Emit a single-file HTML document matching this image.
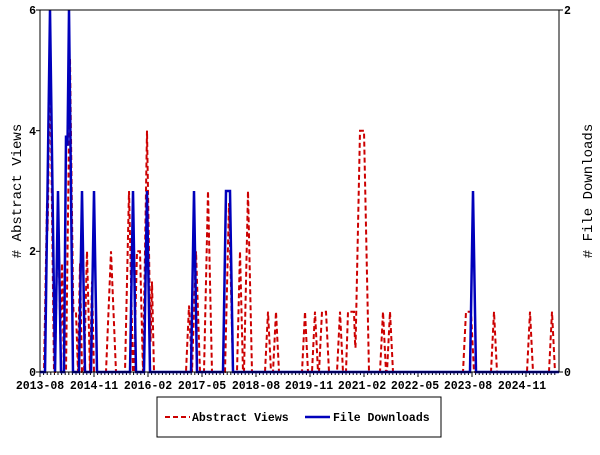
<!DOCTYPE html>
<html><head><style>
body{margin:0;background:#fff;}
svg text{font-family:"Liberation Mono","DejaVu Sans Mono",monospace;font-size:11.5px;font-weight:bold;fill:#000;}
</style></head><body>
<svg id="s" width="600" height="450" xmlns="http://www.w3.org/2000/svg">
<rect x="0" y="0" width="600" height="450" fill="#fff"/>
<g id="grid"></g>
<polyline id="v" fill="none" stroke="#cc0000" stroke-width="2" stroke-dasharray="5,3"/>
<polyline id="d" fill="none" stroke="#0000bb" stroke-width="2.5"/>
<rect x="40" y="10" width="519" height="362" fill="none" stroke="#000" stroke-width="1"/>
<text x="36" y="14" text-anchor="end">6</text>
<text x="36" y="135" text-anchor="end">4</text>
<text x="36" y="255" text-anchor="end">2</text>
<text x="36" y="376" text-anchor="end">0</text>
<text x="564" y="14">2</text>
<text x="564" y="376">0</text>
<text x="40" y="389" text-anchor="middle">2013-08</text>
<text x="94" y="389" text-anchor="middle">2014-11</text>
<text x="148" y="389" text-anchor="middle">2016-02</text>
<text x="202" y="389" text-anchor="middle">2017-05</text>
<text x="256" y="389" text-anchor="middle">2018-08</text>
<text x="309" y="389" text-anchor="middle">2019-11</text>
<text x="362" y="389" text-anchor="middle">2021-02</text>
<text x="415" y="389" text-anchor="middle">2022-05</text>
<text x="468" y="389" text-anchor="middle">2023-08</text>
<text x="522" y="389" text-anchor="middle">2024-11</text>
<text transform="translate(21,191) rotate(-90)" text-anchor="middle" style="font-size:14px;font-weight:normal"># Abstract Views</text>
<text transform="translate(592,191) rotate(-90)" text-anchor="middle" style="font-size:14px;font-weight:normal"># File Downloads</text>
<rect x="157" y="397" width="284" height="40" fill="#fff" stroke="#000"/>
<line x1="165" y1="417" x2="190" y2="417" stroke="#cc0000" stroke-width="2" stroke-dasharray="5,3"/>
<text x="192" y="421">Abstract Views</text>
<line x1="305" y1="417" x2="330" y2="417" stroke="#0000bb" stroke-width="2.5"/>
<text x="333" y="421">File Downloads</text>
</svg>
<script>
var RV=[[50,50,5.4,4],[47,47,2.8,3],[58,58,2.8,3],[62,62,1.8,2],[70,70,5.2,4],[72,76,1,2],[80,80,1.8,2],[87,87,2,3],[92,92,1.5,2],[111,111,2,5],[129,129,3,4],[137,140,2,3],[147,147,4,4],[152,152,1.5,2],
[189,189,1.1,3],[196,196,2,4],[208,208,3,4],[229,229,2.8,4],[240,240,2,3],[248,248,3,4],[268,268,1,3],[276,276,1,3],[305,305,1,3],[315,315,1,3],[322,326,1,3],[340,340,1,3],[348,354,1,2],[360,364,4,5],[383,383,1,3],[390,390,1,3],[466,471,1,3],[494,494,1,3],[530,530,1,3],[552,552,1,3]];
var RD=[[50,50,2,5],[58,58,1,3],[66,67,1.3,2],[69,69,2,4],[82,82,1,3],[94,94,1,3],[133,133,1,3],[147,147,1,3],[194,194,1,3],[226,230,1,3],[473,473,1,3]];
function build(S,scale){var pts=[];for(var x=40;x<=559;x+=0.5){var v=0;S.forEach(function(s){var t=0;if(x>=s[0]&&x<=s[1])t=s[2];else if(x<s[0]&&x>s[0]-s[3])t=s[2]*(x-(s[0]-s[3]))/s[3];else if(x>s[1]&&x<s[1]+s[3])t=s[2]*((s[1]+s[3])-x)/s[3];if(t>v)v=t;});pts.push(x+","+(372-v*scale).toFixed(1));}return pts.join(" ");}
document.getElementById("v").setAttribute("points",build(RV,60.33));
document.getElementById("d").setAttribute("points",build(RD,181));
var g=document.getElementById("grid"),h="";
for(var m=0;m<144;m++){var x=40+m*3.6;h+='<line x1="'+x+'" y1="372" x2="'+x+'" y2="'+(m%15==0?377:375)+'" stroke="#000"/>';}
[0,2,4,6].forEach(function(t){var y=372-t*60.33;h+='<line x1="36" y1="'+y+'" x2="40" y2="'+y+'" stroke="#000"/>';});
h+='<line x1="559" y1="10" x2="563" y2="10" stroke="#000"/><line x1="559" y1="372" x2="563" y2="372" stroke="#000"/>';
g.innerHTML=h;
</script>
</body></html>
